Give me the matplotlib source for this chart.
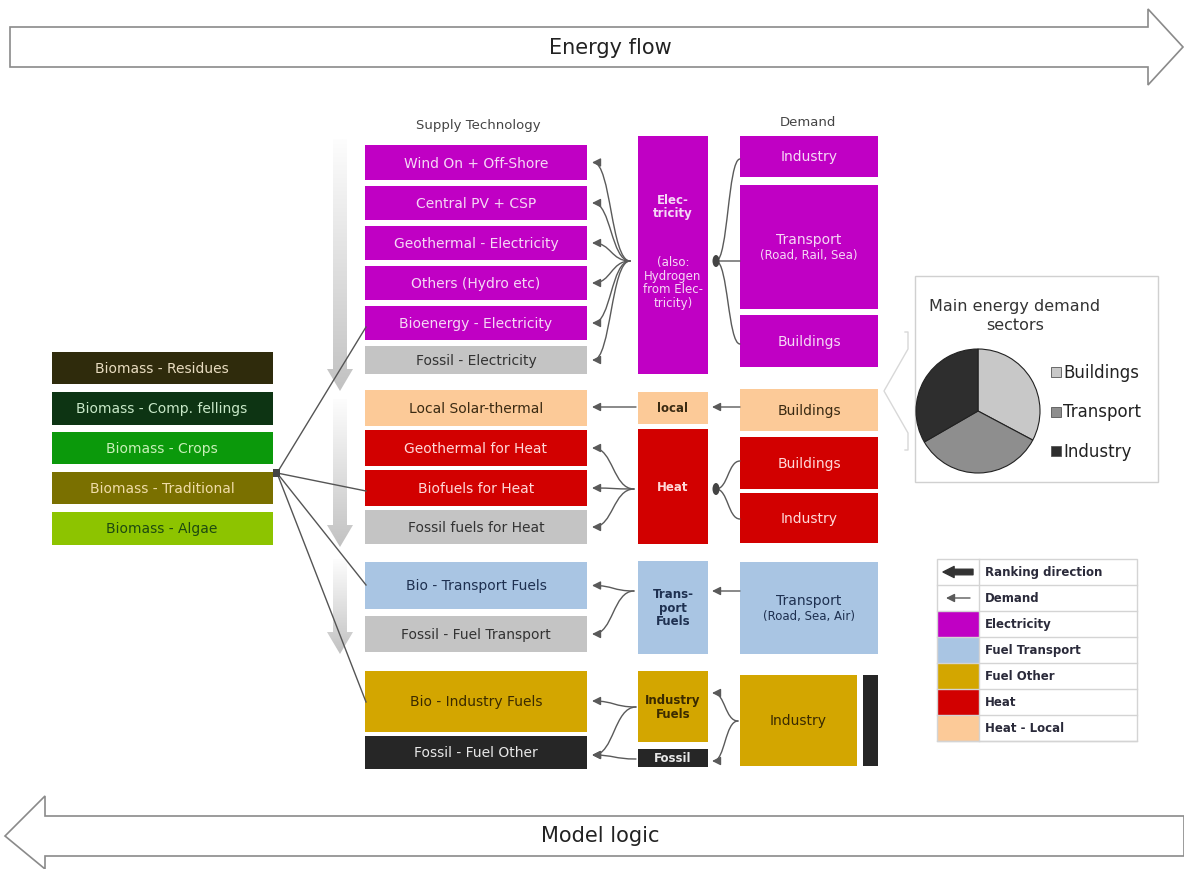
import numpy as np
import matplotlib.pyplot as plt
from matplotlib.patches import Rectangle, Polygon, FancyArrowPatch, Ellipse
from matplotlib.path import Path
from matplotlib.colors import LinearSegmentedColormap

# colours by category
COLORS = {"elec": "#c000c4", "grey": "#c4c4c4", "local": "#fcca98", "heat": "#d20000",
          "ftrans": "#a9c5e3", "fother": "#d3a600", "fossil": "#262626"}
TEXTC = {"elec": "#f6d8f6", "grey": "#333333", "local": "#3a2a12", "heat": "#ffd8d8",
         "ftrans": "#1e3050", "fother": "#3a2a00", "fossil": "#e8e8e8"}

# supply technologies (label, category, top, bottom)
supply_labels = ["Wind On + Off-Shore", "Central PV + CSP", "Geothermal - Electricity",
                 "Others (Hydro etc)", "Bioenergy - Electricity", "Fossil - Electricity",
                 "Local Solar-thermal", "Geothermal for Heat", "Biofuels for Heat",
                 "Fossil fuels for Heat", "Bio - Transport Fuels", "Fossil - Fuel Transport",
                 "Bio - Industry Fuels", "Fossil - Fuel Other"]
supply_kinds = ["elec", "elec", "elec", "elec", "elec", "grey", "local", "heat", "heat",
                "grey", "ftrans", "grey", "fother", "fossil"]
supply_y = [(146, 181), (187, 221), (227, 261), (267, 301), (307, 341), (347, 375),
            (391, 427), (431, 467), (471, 507), (511, 545), (563, 610), (617, 653),
            (672, 733), (737, 770)]

# carriers (middle column)
carrier_labels = ["Elec-\ntricity", "local", "Heat", "Trans-\nport\nFuels", "Industry\nFuels", "Fossil"]
carrier_kinds = ["elec", "local", "heat", "ftrans", "fother", "fossil"]
carrier_y = [(137, 375), (393, 425), (430, 545), (562, 655), (672, 743), (750, 768)]

# demand sectors
demand_labels = ["Industry", "Transport", "Buildings", "Buildings", "Buildings", "Industry",
                 "Transport", "Industry"]
demand_sub = ["", "(Road, Rail, Sea)", "", "", "", "", "(Road, Sea, Air)", ""]
demand_kinds = ["elec", "elec", "elec", "local", "heat", "heat", "ftrans", "fother"]
demand_y = [(137, 178), (186, 310), (316, 368), (390, 432), (438, 490), (494, 544),
            (563, 655), (676, 767)]

# biomass resources
biomass_labels = ["Biomass - Residues", "Biomass - Comp. fellings", "Biomass - Crops",
                  "Biomass - Traditional", "Biomass - Algae"]
biomass_colors = ["#2f2b0c", "#0d3413", "#0b990b", "#7a7000", "#8dc400"]
biomass_text = ["#e8dcc0", "#c8e8c8", "#c8f0b8", "#f0dca8", "#1e4a10"]
biomass_y = [(353, 385), (393, 426), (433, 465), (473, 505), (513, 546)]

# pie: main energy demand sectors
pie_labels = ["Buildings", "Transport", "Industry"]
pie_values = [118, 122, 120]
pie_colors = ["#c8c8c8", "#8e8e8e", "#2e2e2e"]

# legend table
legend_labels = ["Ranking direction", "Demand", "Electricity", "Fuel Transport",
                 "Fuel Other", "Heat", "Heat - Local"]
legend_kinds = [None, None, "elec", "ftrans", "fother", "heat", "local"]


def box(ax, x0, x1, y0, y1, fc, ec="none"):
    ax.add_patch(Rectangle((x0, y0), x1 - x0, y1 - y0, fc=fc, ec=ec, lw=0.8))


def scurve(ax, p0, p1, head=True, k=0.5, lw=1.0):
    x0, y0 = p0
    x1, y1 = p1
    c0 = (x0 + (x1 - x0) * k, y0)
    c1 = (x1 - (x1 - x0) * k, y1)
    path = Path([p0, c0, c1, p1], [Path.MOVETO, Path.CURVE4, Path.CURVE4, Path.CURVE4])
    style = "-|>,head_length=5,head_width=2.5" if head else "-"
    ax.add_patch(FancyArrowPatch(path=path, arrowstyle=style, color="#5a5a5a", lw=lw,
                                 mutation_scale=1, zorder=3))


def grad_arrow(ax, x, y0, y1):
    pts = [(x - 7, y0), (x + 7, y0), (x + 7, y1 - 22), (x + 13, y1 - 22), (x, y1),
           (x - 13, y1 - 22), (x - 7, y1 - 22)]
    poly = Polygon(pts, closed=True, fc="none", ec="none")
    ax.add_patch(poly)
    cmap = LinearSegmentedColormap.from_list("g", ["#fdfdfd", "#c2c2c2"])
    grad = np.linspace(0, 1, 200).reshape(-1, 1)
    im = ax.imshow(grad, extent=(x - 13, x + 13, y1, y0), cmap=cmap, aspect="auto",
                   origin="upper", zorder=1)
    im.set_clip_path(poly)


fig = plt.figure(figsize=(11.84, 8.70), dpi=100)
ax = fig.add_axes([0, 0, 1, 1])

# big outline arrows
top = [(10, 28), (1148, 28), (1148, 10), (1183, 48), (1148, 86), (1148, 68), (10, 68)]
ax.add_patch(Polygon(top, closed=True, fc="white", ec="#8a8a8a", lw=1.2))
ax.text(610, 48, "Energy flow", ha="center", va="center", fontsize=15, color="#222222")
bot = [(1184, 817), (45, 817), (45, 797), (5, 837), (45, 870), (45, 857), (1184, 857)]
ax.add_patch(Polygon(bot, closed=True, fc="white", ec="#8a8a8a", lw=1.2))
ax.text(600, 836, "Model logic", ha="center", va="center", fontsize=15, color="#222222")

# ranking gradient arrows
grad_arrow(ax, 340, 140, 392)
grad_arrow(ax, 340, 400, 548)
grad_arrow(ax, 340, 560, 655)

ax.text(478, 125, "Supply Technology", ha="center", va="center", fontsize=9.5, color="#444444")
ax.text(808, 122, "Demand", ha="center", va="center", fontsize=9.5, color="#444444")

for lab, k, (y0, y1) in zip(supply_labels, supply_kinds, supply_y):
    box(ax, 365, 587, y0, y1, COLORS[k])
    ax.text(476, (y0 + y1) / 2, lab, ha="center", va="center", fontsize=10, color=TEXTC[k])

for lab, k, (y0, y1) in zip(carrier_labels, carrier_kinds, carrier_y):
    box(ax, 638, 708, y0, y1, COLORS[k])
    ym = (y0 + y1) / 2
    if k == "elec":
        ym = 207
    ax.text(673, ym, lab, ha="center", va="center", fontsize=8.5, color=TEXTC[k],
            fontweight="bold", linespacing=1.05)
ax.text(673, 283, "(also:\nHydrogen\nfrom Elec-\ntricity)", ha="center", va="center",
        fontsize=8.5, color=TEXTC["elec"], linespacing=1.05)

for lab, sub, k, (y0, y1) in zip(demand_labels, demand_sub, demand_kinds, demand_y):
    x1 = 857 if k == "fother" else 878
    box(ax, 740, x1, y0, y1, COLORS[k])
    ym = (y0 + y1) / 2
    if sub:
        ax.text((740 + x1) / 2, ym - 8, lab, ha="center", va="center", fontsize=10, color=TEXTC[k])
        ax.text((740 + x1) / 2, ym + 8, sub, ha="center", va="center", fontsize=8.5, color=TEXTC[k])
    else:
        ax.text((740 + x1) / 2, ym, lab, ha="center", va="center", fontsize=10, color=TEXTC[k])
box(ax, 863, 878, 676, 767, COLORS["fossil"])

for lab, c, tc, (y0, y1) in zip(biomass_labels, biomass_colors, biomass_text, biomass_y):
    box(ax, 52, 273, y0, y1, c)
    ax.text(162, (y0 + y1) / 2, lab, ha="center", va="center", fontsize=10, color=tc)

# biomass hub lines
hub = (277, 474)
for y in [328, 492, 586, 703]:
    ax.plot([hub[0], 366], [hub[1], y], color="#555555", lw=1.0, zorder=3)
ax.add_patch(Rectangle((273, 470), 7, 8, fc="#444444", ec="none", zorder=4))

# fans from carriers to supply technologies
for (y0, y1) in supply_y[:6]:
    scurve(ax, (630, 262), (592, (y0 + y1) / 2))
for (y0, y1) in supply_y[7:10]:
    scurve(ax, (634, 490), (592, (y0 + y1) / 2))
for (y0, y1) in supply_y[10:12]:
    scurve(ax, (634, 592), (592, (y0 + y1) / 2))
scurve(ax, (636, 708), (592, 702))
scurve(ax, (636, 708), (592, 756))
scurve(ax, (636, 760), (592, 756))
scurve(ax, (738, 722), (712, 694))
scurve(ax, (738, 722), (712, 762))
# straight demand arrows
scurve(ax, (636, 408), (592, 408))
scurve(ax, (740, 408), (712, 408))
scurve(ax, (740, 592), (712, 592))

# demand braces
for (yc, ends) in [(262, [160, 262, 345]), (490, [462, 520])]:
    ax.add_patch(Ellipse((716, yc), 7, 12, fc="#444444", ec="none", zorder=4))
    for t in ends:
        scurve(ax, (716, yc), (740, t), head=False)

# chevron to pie panel
chev = [(905, 333), (908, 333), (908, 350), (884, 392), (908, 434), (908, 451), (905, 451)]
ax.plot([p[0] for p in chev], [p[1] for p in chev], color="#d8d8d8", lw=1.0)

# pie panel
ax.add_patch(Rectangle((915, 277), 243, 206, fc="white", ec="#d0d0d0", lw=1.0))
ax.text(1015, 316, "Main energy demand\nsectors", ha="center", va="center", fontsize=11.5,
        color="#333333", linespacing=1.3)
pw = 155
pie_ax = fig.add_axes([(978 - pw / 2) / 1184, 1 - (412 + pw / 2) / 870, pw / 1184, pw / 870])
pie_ax.pie(pie_values, colors=pie_colors, startangle=90, counterclock=False,
           wedgeprops=dict(edgecolor="#222222", linewidth=0.8))
pie_ax.set_aspect("equal")
pie_ax.patch.set_visible(False)
for i, (lab, c) in enumerate(zip(pie_labels, pie_colors)):
    y = 373 + 39.5 * i
    ax.add_patch(Rectangle((1051, y - 5), 10, 10, fc=c, ec="#555555", lw=0.6))
    ax.text(1063, y, lab, ha="left", va="center", fontsize=12, color="#222222")

# legend table
lx0, lx1, lxm, ly0, rh = 937, 1137, 979, 560, 26
for i, (lab, k) in enumerate(zip(legend_labels, legend_kinds)):
    y0 = ly0 + i * rh
    if k is not None:
        box(ax, lx0, lxm, y0, y0 + rh, COLORS[k])
    ax.text(lxm + 6, y0 + rh / 2, lab, ha="left", va="center", fontsize=8.5,
            fontweight="bold", color="#2a2a3a")
    ax.plot([lx0, lx1], [y0 + rh, y0 + rh], color="#d4d4d4", lw=1.0)
ax.add_patch(Rectangle((lx0, ly0), lx1 - lx0, 7 * rh, fc="none", ec="#d4d4d4", lw=1.0))
ax.plot([lxm, lxm], [ly0, ly0 + 7 * rh], color="#d4d4d4", lw=1.0)
ax.add_patch(FancyArrowPatch((973, 573), (943, 573),
                             arrowstyle="simple,head_length=8,head_width=8,tail_width=4",
                             color="#333333", mutation_scale=1, shrinkA=0, shrinkB=0))
scurve(ax, (970, 599), (946, 599))

ax.set_xlim(0, 1184)
ax.set_ylim(870, 0)
ax.axis("off")
fig.savefig("out.png", dpi=100)
